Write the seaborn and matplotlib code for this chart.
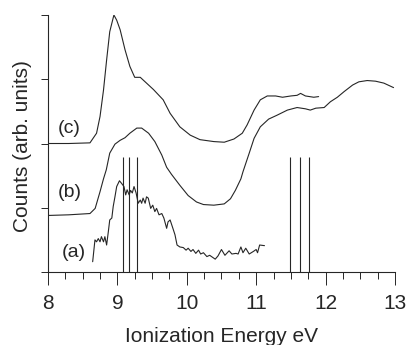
import numpy as np
import matplotlib
matplotlib.use("Agg")
import matplotlib.pyplot as plt
import seaborn as sns

sns.set_style("ticks")
plt.rcParams["font.family"] = ["Liberation Sans", "DejaVu Sans"]

# spectrum (a): noisy measured curve
energy_a = [8.644, 8.677, 8.70, 8.725, 8.75, 8.77, 8.80, 8.82, 8.845, 8.87, 8.89, 8.92,
            8.94, 8.965, 8.99, 9.03, 9.06, 9.095, 9.12, 9.14, 9.17, 9.19, 9.215, 9.24,
            9.27, 9.30, 9.33, 9.35, 9.37, 9.40, 9.42, 9.445, 9.48, 9.51, 9.54, 9.565,
            9.60, 9.64, 9.67, 9.71, 9.73, 9.76, 9.80, 9.83, 9.86, 9.90, 9.95, 9.99,
            10.02, 10.06, 10.09, 10.13, 10.17, 10.20, 10.24, 10.29, 10.33, 10.41, 10.45,
            10.50, 10.55, 10.61, 10.65, 10.71, 10.74, 10.78, 10.81, 10.85, 10.90, 10.96,
            11.00, 11.02, 11.05, 11.12]
counts_a = [0.16, 0.50, 0.47, 0.52, 0.47, 0.55, 0.47, 0.55, 0.42, 0.63, 0.81, 0.84,
            1.02, 1.17, 1.33, 1.42, 1.38, 1.33, 1.20, 1.28, 1.20, 1.27, 1.23, 1.33,
            1.23, 1.07, 1.12, 1.07, 1.15, 1.07, 1.17, 1.15, 0.99, 1.04, 0.94, 0.99,
            0.89, 0.91, 0.84, 0.68, 0.78, 0.81, 0.68, 0.58, 0.42, 0.39, 0.38, 0.34,
            0.37, 0.32, 0.35, 0.29, 0.34, 0.28, 0.30, 0.24, 0.26, 0.20, 0.25,
            0.35, 0.26, 0.33, 0.28, 0.29, 0.28, 0.39, 0.30, 0.37, 0.28, 0.32,
            0.35, 0.30, 0.42, 0.41]

# spectrum (b)
energy_b = [8.0, 8.3, 8.605, 8.68, 8.75, 8.80, 8.84, 8.89, 8.965, 9.04, 9.11, 9.18,
            9.28, 9.35, 9.45, 9.54, 9.64, 9.71, 9.78, 9.90, 10.02, 10.14, 10.24, 10.39,
            10.54, 10.63, 10.70, 10.78, 10.81, 10.90, 10.97, 11.06, 11.18, 11.30, 11.45,
            11.59, 11.71, 11.78, 11.86, 11.98, 12.07, 12.17, 12.27, 12.39, 12.48, 12.60,
            12.72, 12.84, 12.98]
counts_b = [0.88, 0.89, 0.91, 0.99, 1.25, 1.45, 1.59, 1.85, 1.99, 2.05, 2.09, 2.16,
            2.24, 2.24, 2.16, 2.03, 1.82, 1.63, 1.52, 1.35, 1.19, 1.09, 1.05, 1.04,
            1.06, 1.14, 1.27, 1.45, 1.56, 1.85, 2.08, 2.26, 2.38, 2.44, 2.52,
            2.56, 2.54, 2.52, 2.55, 2.56, 2.65, 2.72, 2.81, 2.91, 2.96, 2.98,
            2.97, 2.94, 2.87]

# spectrum (c)
energy_c = [8.0, 8.3, 8.605, 8.70, 8.75, 8.80, 8.845, 8.89, 8.95, 8.99, 9.04, 9.11,
            9.18, 9.25, 9.33, 9.40, 9.52, 9.66, 9.76, 9.90, 10.05, 10.19, 10.39, 10.54,
            10.68, 10.80, 10.87, 10.97, 11.06, 11.16, 11.28, 11.38, 11.50, 11.59, 11.64,
            11.71, 11.83, 11.90]
counts_c = [2.0, 2.0, 2.01, 2.16, 2.42, 2.83, 3.30, 3.74, 4.00, 3.92, 3.77, 3.46,
            3.20, 3.03, 3.03, 2.96, 2.84, 2.68, 2.47, 2.26, 2.13, 2.06, 2.03, 2.02,
            2.07, 2.16, 2.29, 2.52, 2.68, 2.74, 2.74, 2.72, 2.74, 2.75, 2.78,
            2.74, 2.72, 2.73]

# marker lines (eV)
markers = [9.08, 9.17, 9.29, 11.49, 11.63, 11.76]
marker_top = 1.79

labels = ["(a)", "(b)", "(c)"]

fig = plt.figure(figsize=(4.08, 3.45), dpi=100)
ax = fig.add_axes([0.1176, 0.2116, 0.8504, 0.7449])

line_col = "#262626"
for x, y in [(energy_a, counts_a), (energy_b, counts_b), (energy_c, counts_c)]:
    sns.lineplot(x=x, y=y, ax=ax, color=line_col, linewidth=0.8,
                 sort=False, estimator=None)

ax.vlines(markers, 0, marker_top, color=line_col, linewidth=0.8)

for lab, (tx, ty) in zip(labels, [(8.37, 0.31), (8.32, 1.23), (8.30, 2.24)]):
    ax.text(tx, ty, lab, fontsize=14, ha="center", va="center")

ax.set_xlim(8, 13)
ax.set_ylim(0, 4)
ax.set_xticks([8, 9, 10, 11, 12, 13])
ax.set_xticks(np.arange(8, 13.01, 0.25), minor=True)
ax.set_yticks([0, 1, 2, 3, 4])
ax.set_yticklabels([])
ax.tick_params(axis="x", which="major", length=9.5, width=0.7, labelsize=15,
               pad=6.5, color=line_col)
ax.tick_params(axis="x", which="minor", length=5, width=0.7, color=line_col)
ax.tick_params(axis="y", length=5, width=0.7, color=line_col)

sns.despine(ax=ax)
for s in ["left", "bottom"]:
    ax.spines[s].set_linewidth(0.8)
    ax.spines[s].set_color(line_col)

ax.set_xlabel("Ionization Energy eV", fontsize=15, labelpad=10)
ax.set_ylabel("Counts (arb. units)", fontsize=15, labelpad=3, y=0.49)

fig.savefig("out.png", dpi=100)
